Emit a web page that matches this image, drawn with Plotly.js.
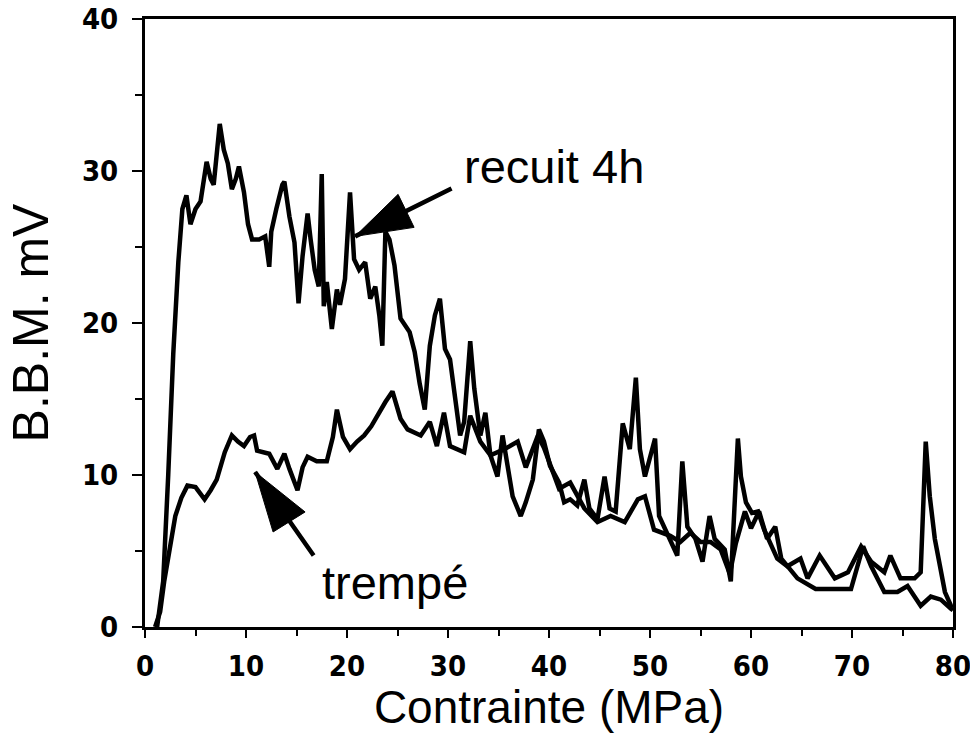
<!DOCTYPE html>
<html>
<head>
<meta charset="utf-8">
<script src="https://cdn.plot.ly/plotly-3.0.1.min.js"></script>
<style>html,body{margin:0;padding:0;background:#fff;}#chart{width:970px;height:733px;}</style>
</head>
<body>
<div id="chart"></div>
<script>
// Contrainte (MPa) / B.B.M. (mV) — "recuit 4h"
const recuitX = [1.2,1.8,2.3,2.8,3.3,3.7,4.1,4.5,5.0,5.5,6.1,6.5,6.8,7.1,7.4,7.8,8.2,8.6,9.0,9.3,9.8,10.2,10.6,11.3,11.9,12.3,12.5,13.0,13.6,13.8,14.3,14.8,15.2,15.6,16.1,16.4,16.8,17.2,17.5,17.7,18.0,18.5,19.0,19.3,19.8,20.3,20.7,21.2,21.8,22.3,22.8,23.2,23.5,23.8,24.2,24.7,25.3,26.2,26.7,27.2,27.7,28.2,28.7,29.2,29.7,30.2,30.7,31.2,31.6,32.2,32.6,33.2,33.7,34.2,34.9,35.4,35.9,36.4,37.2,37.7,38.4,39.0,39.5,40.1,41.0,41.5,42.1,42.8,43.5,44.0,44.8,45.5,46.0,46.6,47.3,48.0,48.6,49.0,49.5,50.5,50.9,52.0,52.7,53.2,53.7,54.5,55.2,55.9,56.4,57.4,58.0,58.7,59.0,59.5,60.1,60.7,61.3,62.6,63.6,64.9,65.6,66.8,68.3,69.6,70.9,71.9,73.2,73.8,74.8,76.2,76.8,77.3,77.7,78.2,79.2,79.8,80.0];
const recuitY = [0,3,10,18,24,27.5,28.4,26.5,27.5,28,30.6,29.5,29.1,31,33.1,31.4,30.5,28.8,29.5,30.3,28.6,26.5,25.5,25.5,25.7,23.7,26,27.5,29.1,29.3,27,25.3,21.3,24.4,27.2,25.5,23.5,22.4,29.8,21.1,22.7,19.6,22.2,21.2,22.9,28.6,24.2,23.5,24,21.6,22.4,20.5,18.5,26,25.5,23.8,20.3,19.4,18.1,16,14.3,18.5,20.5,21.6,18.3,17.6,15,12.6,13.5,18.8,15.7,12.6,14.1,11.3,9.9,12.6,10.6,8.6,7.3,8.2,9.7,13,12.2,10.6,9.5,8.2,8.4,8,9.7,7.8,7.1,9.9,7.8,7.6,13.4,11.7,16.4,11.7,9.9,12.4,7.3,5.8,4.7,10.9,6.6,5.8,4.3,7.3,5.8,5.1,3.0,12.4,9.9,8.2,7.5,7.6,6.4,4.5,4,4.5,3.2,4.7,3.2,3.6,5.3,4.3,3.6,4.7,3.2,3.2,3.6,12.2,8.6,5.8,2.3,1.4,1.3];

// "trempé"
const trempeX = [1.0,1.5,1.9,2.5,3.0,3.6,4.2,5.0,5.9,6.5,7.1,7.9,8.6,9.2,9.8,10.4,10.8,11.1,12.3,13.1,13.8,14.3,15.1,15.6,16.1,17.0,18.0,18.6,19.0,19.6,20.3,21.0,21.7,22.4,23.0,23.8,24.5,25.3,26.0,27.3,28.2,28.9,29.6,30.2,31.6,32.2,33.2,34.2,35.6,36.9,37.7,38.9,39.5,40.2,41.0,42.1,43.5,44.8,46.1,47.5,48.8,49.5,50.4,52.0,53.0,54.0,55.0,56.0,57.0,57.9,58.5,59.4,60.0,60.8,61.6,62.4,63.0,64.6,66.4,67.9,69.9,71.1,71.9,73.2,74.5,75.5,76.8,77.8,78.8,79.8,80.0];
const trempeY = [0,1,3,5.6,7.3,8.5,9.3,9.2,8.4,9,9.7,11.5,12.6,12.2,11.9,12.5,12.6,11.6,11.4,10.4,11.4,10.4,9,10.5,11.2,10.9,10.9,12.5,14.3,12.5,11.7,12.2,12.6,13.2,13.9,14.8,15.5,13.7,13,12.6,13.5,11.9,14.1,11.9,11.5,13.9,12.2,11.3,11.7,12.2,10.5,12.6,11.8,10.5,9.1,9.5,7.8,6.9,7.3,6.9,8.4,8.6,6.4,6,5.6,6.2,5.6,5.6,5.1,3.5,5.5,7.6,6.5,7.6,5.8,6.6,4.5,3.2,2.5,2.5,2.5,5.3,4,2.3,2.3,2.7,1.4,2,1.8,1.2,1.1];

const xTickVals = [0,10,20,30,40,50,60,70,80];
const xTickText = ['0','10','20','30','40','50','60','70','80'];
const yTickVals = [0,10,20,30,40];
const yTickText = ['0','10','20','30','40'];

const seriesNames = ['recuit 4h','trempé'];
const xTitle = 'Contrainte (MPa)';
const yTitle = 'B.B.M. mV';

const textFont = {family:'Liberation Sans, Arial, sans-serif', size:47, color:'#000'};
const tickFont = {family:'Liberation Sans Narrow, DejaVu Sans Condensed, sans-serif', size:29, color:'#000', weight:'bold'};

const traces = [
  {x:recuitX, y:recuitY, name:seriesNames[0], type:'scatter', mode:'lines', line:{color:'#000', width:4.5}},
  {x:trempeX, y:trempeY, name:seriesNames[1], type:'scatter', mode:'lines', line:{color:'#000', width:4.5}}
];

const layout = {
  width:970, height:733,
  margin:{l:145, r:17, t:19, b:106},
  paper_bgcolor:'#fff', plot_bgcolor:'#fff',
  showlegend:false,
  xaxis:{
    range:[0,80], tickvals:xTickVals, ticktext:xTickText,
    showgrid:false, zeroline:false,
    showline:true, linecolor:'#000', linewidth:3, mirror:true,
    ticks:'outside', ticklen:8, tickwidth:2, tickcolor:'#000',
    minor:{dtick:5, ticks:'outside', ticklen:6, tickwidth:2, tickcolor:'#000'},
    tickfont:tickFont, ticklabelstandoff:3, ticklabeloverflow:'allow',
    title:{text:xTitle, font:{family:'Liberation Sans, Arial, sans-serif', size:46, color:'#000'}, standoff:20}
  },
  yaxis:{
    range:[0,40], tickvals:yTickVals, ticktext:yTickText,
    showgrid:false, zeroline:false,
    showline:true, linecolor:'#000', linewidth:3, mirror:true,
    ticks:'outside', ticklen:10, tickwidth:2, tickcolor:'#000',
    minor:{dtick:5, ticks:'outside', ticklen:7, tickwidth:2, tickcolor:'#000'},
    tickfont:tickFont, ticklabelstandoff:8, ticklabeloverflow:'allow',
    title:{text:yTitle, font:{family:'Liberation Sans, Arial, sans-serif', size:50, color:'#000'}, standoff:18}
  },
  annotations:[
    {x:31.4, y:30.3, xref:'x', yref:'y', text:seriesNames[0], showarrow:false, xanchor:'left', yanchor:'middle', font:textFont},
    {x:17.3, y:2.9, xref:'x', yref:'y', text:seriesNames[1], showarrow:false, xanchor:'left', yanchor:'middle', font:textFont},
    {x:20.8, y:25.7, xref:'x', yref:'y', ax:30.5, ay:28.9, axref:'x', ayref:'y', text:'', showarrow:true, arrowhead:0, arrowwidth:4.5, arrowcolor:'#000', standoff:0},
    {x:10.9, y:10.2, xref:'x', yref:'y', ax:16.8, ay:4.6, axref:'x', ayref:'y', text:'', showarrow:true, arrowhead:0, arrowwidth:4.5, arrowcolor:'#000', standoff:0}
  ],
  shapes:[
    {type:'path', xref:'x', yref:'y', xsizemode:'pixel', ysizemode:'pixel', xanchor:20.8, yanchor:25.7,
     path:'M0,0 L59,9 L43,42 Z', fillcolor:'#000', line:{color:'#000', width:1}},
    {type:'path', xref:'x', yref:'y', xsizemode:'pixel', ysizemode:'pixel', xanchor:10.9, yanchor:10.2,
     path:'M0,0 L50,-40 L18,-60 Z', fillcolor:'#000', line:{color:'#000', width:1}}
  ]
};

Plotly.newPlot('chart', traces, layout, {staticPlot:true, displayModeBar:false});
</script>
</body>
</html>
